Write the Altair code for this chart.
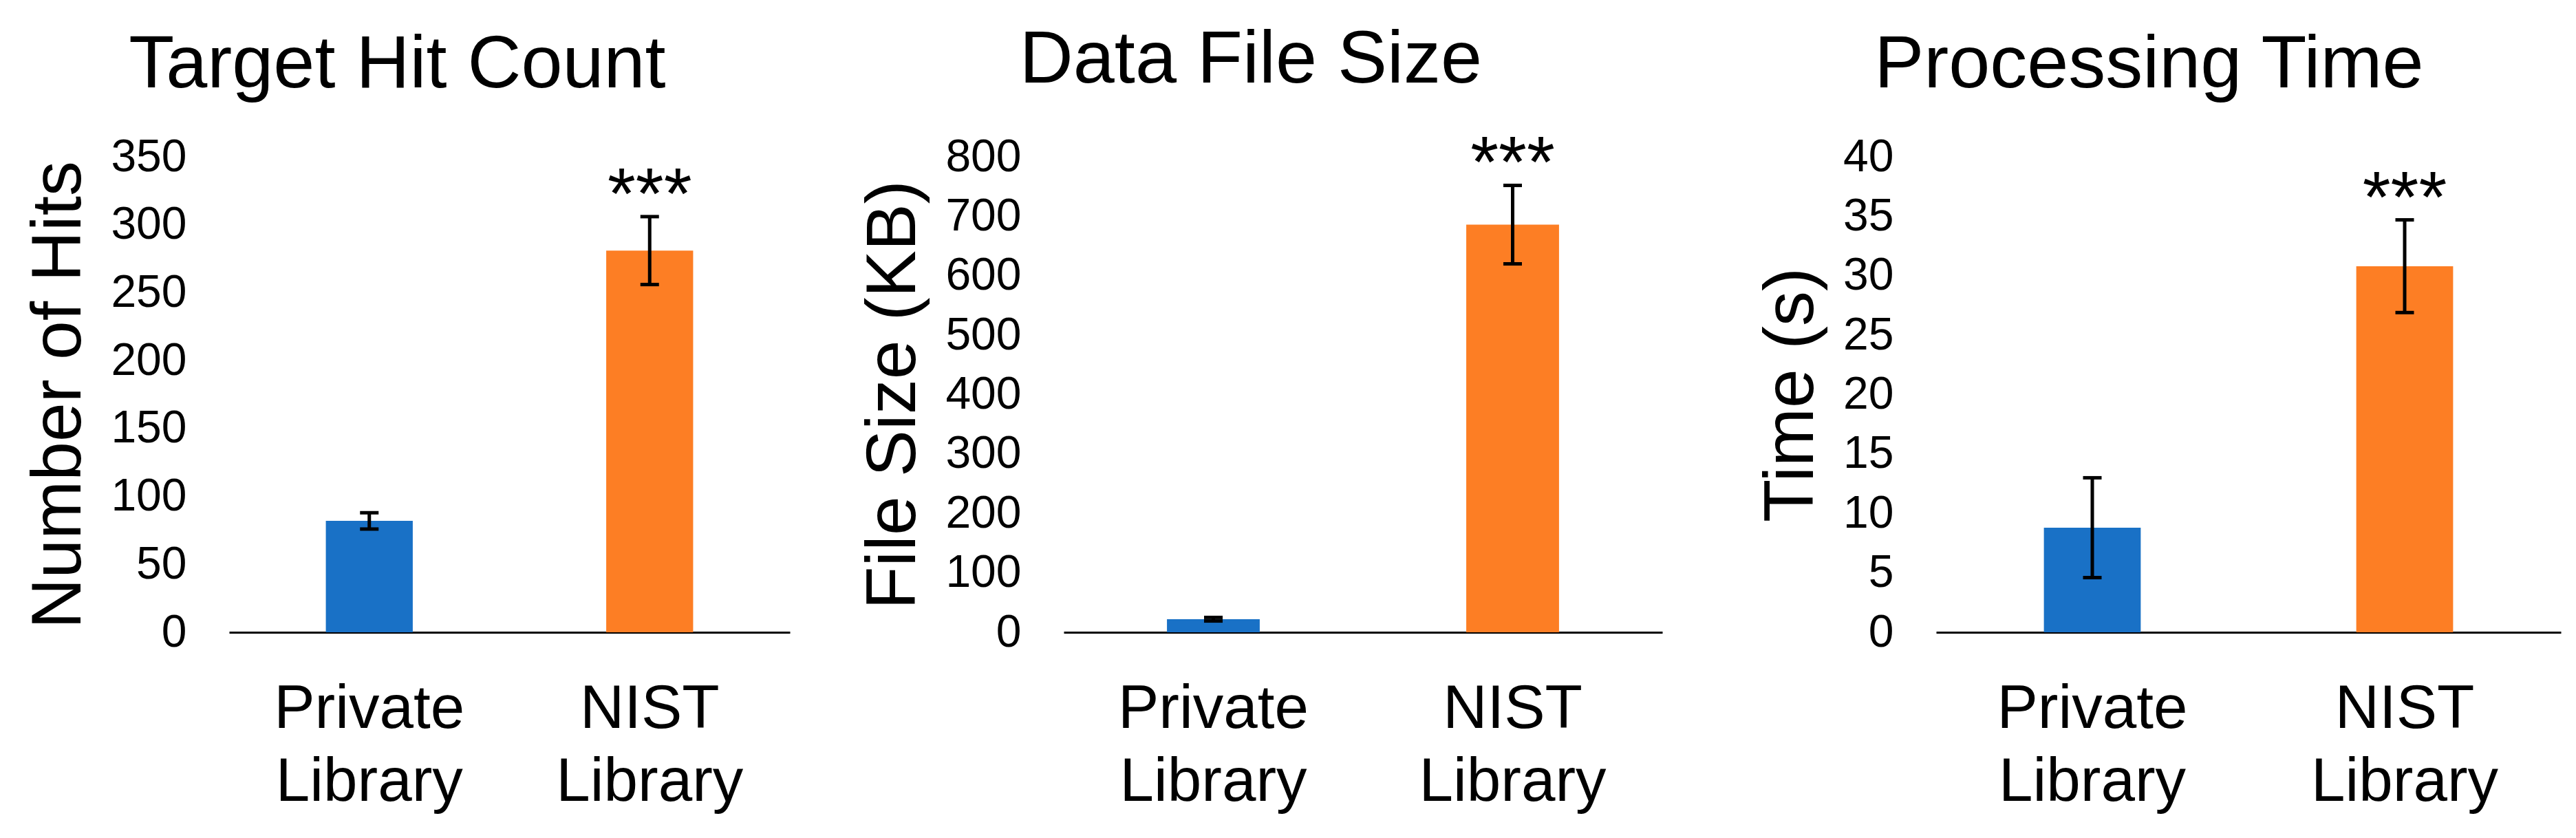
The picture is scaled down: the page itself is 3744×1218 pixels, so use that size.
import altair as alt
import pandas as pd

FONT = "Liberation Sans"

categories = ["Private Library", "NIST Library"]
colors = ["#1971c6", "#fd7e24"]
significance = ["", "***"]

hits_mean = [82, 281]
hits_err = [6, 25]
size_mean = [22, 686]
size_err = [3, 66]
time_mean = [8.8, 30.8]
time_err = [4.2, 3.9]

panel_titles = ["Target Hit Count", "Data File Size", "Processing Time"]
y_titles = ["Number of Hits", "File Size (KB)", "Time (s)"]
y_domains = [[0, 350], [0, 800], [0, 40]]
y_ticks = [
    [0, 50, 100, 150, 200, 250, 300, 350],
    [0, 100, 200, 300, 400, 500, 600, 700, 800],
    [0, 5, 10, 15, 20, 25, 30, 35, 40],
]
panel_widths = [815, 870, 908]
PLOT_H = 691


def panel(means, errs, title, ytitle, domain, ticks, width):
    df = pd.DataFrame({
        "category": categories,
        "mean": means,
        "lo": [m - e for m, e in zip(means, errs)],
        "hi": [m + e for m, e in zip(means, errs)],
        "sig": significance,
    })
    x_enc = alt.X(
        "category:N",
        sort=categories,
        scale=alt.Scale(paddingInner=0.69, paddingOuter=0.345),
        axis=alt.Axis(
            title=None,
            labelExpr="split(datum.label, ' ')",
            labelAngle=0,
            labelFontSize=89,
            labelLineHeight=106,
            labelPadding=68,
            labelLimit=0,
            ticks=False,
            domainColor="black",
            domainWidth=3,
            labelColor="black",
            labelFont=FONT,
        ),
    )
    yscale = alt.Scale(domain=domain, nice=False, zero=True)
    y_axis = alt.Axis(
        values=ticks,
        domain=False,
        ticks=False,
        grid=False,
        labelFontSize=66,
        labelPadding=62,
        labelColor="black",
        labelFont=FONT,
        titleFontSize=102,
        titleFontWeight="normal",
        titleFont=FONT,
        titleColor="black",
        titlePadding=23,
    )

    def yenc(field):
        return alt.Y(field, scale=yscale, axis=y_axis, title=ytitle)

    base = alt.Chart(df)
    bars = base.mark_bar().encode(
        x=x_enc,
        y=yenc("mean:Q"),
        color=alt.Color("category:N", scale=alt.Scale(domain=categories, range=colors), legend=None),
    )
    rule = base.mark_rule(color="black", strokeWidth=5).encode(
        x=x_enc,
        y=yenc("lo:Q"),
        y2="hi:Q",
    )
    cap_lo = base.mark_tick(color="black", size=27, thickness=5, opacity=1).encode(
        x=x_enc,
        y=yenc("lo:Q"),
    )
    cap_hi = base.mark_tick(color="black", size=27, thickness=5, opacity=1).encode(
        x=x_enc,
        y=yenc("hi:Q"),
    )
    stars = base.mark_text(
        font=FONT, fontSize=105, color="black", baseline="alphabetic", dy=3
    ).encode(
        x=x_enc,
        y=yenc("hi:Q"),
        text="sig:N",
    )
    return alt.layer(bars, rule, cap_lo, cap_hi, stars).properties(
        width=width,
        height=PLOT_H,
        title=alt.TitleParams(
            text=title,
            font=FONT,
            fontSize=108,
            fontWeight="normal",
            color="black",
            anchor="middle",
            frame="bounds",
            baseline="alphabetic",
            offset=-40,
            dx=-14,
        ),
    )


p1 = panel(hits_mean, hits_err, panel_titles[0], y_titles[0], y_domains[0], y_ticks[0], panel_widths[0])
p2 = panel(size_mean, size_err, panel_titles[1], y_titles[1], y_domains[1], y_ticks[1], panel_widths[1])
p3 = panel(time_mean, time_err, panel_titles[2], y_titles[2], y_domains[2], y_ticks[2], panel_widths[2])

chart = (
    alt.hconcat(p1, p2, p3, spacing=398, bounds="flush")
    .properties(
        padding={"left": 26, "top": 26, "right": 10, "bottom": 10},
        background="white",
    )
    .configure_view(stroke=None)
)

chart.save("out.html", embed_options={"renderer": "svg", "actions": False})
